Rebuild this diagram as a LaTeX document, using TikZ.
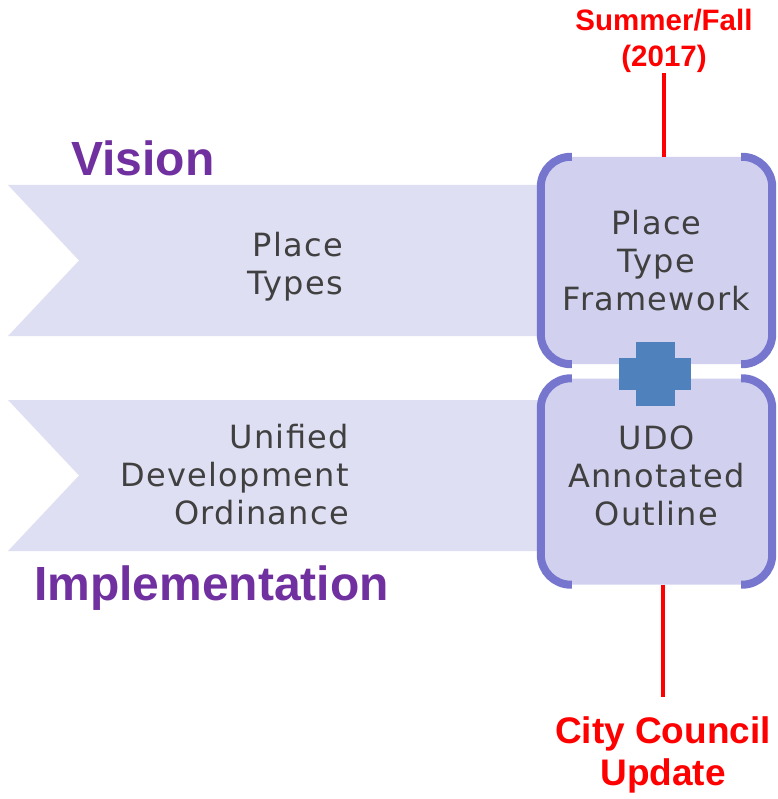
\documentclass[tikz,border=0pt]{standalone}
\usepackage{fontspec}
\setmainfont{Liberation Sans}
\newfontfamily\stagefont[LetterSpace=4]{DejaVu Sans}
\definecolor{bandfill}{RGB}{223,223,243}
\definecolor{boxfill}{RGB}{209,209,239}
\definecolor{rimblue}{RGB}{118,118,207}
\definecolor{plusblue}{RGB}{79,129,189}
\definecolor{textgray}{RGB}{64,64,64}
\definecolor{headpurple}{RGB}{112,48,160}
\tikzset{
	band/.style={fill=bandfill},
	stage/.style={fill=boxfill, rounded corners=30pt, inner sep=0pt,
		minimum width=231pt, align=center, text=textgray,
		font=\stagefont\fontsize{32}{38}\selectfont},
	rim/.style={draw=rimblue, line width=8pt, rounded corners=30pt},
	bandlbl/.style={inner sep=0pt, align=right, text=textgray,
		font=\stagefont\fontsize{32}{38}\selectfont},
	headlbl/.style={inner sep=0pt, text=headpurple, font=\bfseries\fontsize{48}{56}\selectfont},
	redlbl/.style={inner sep=0pt, align=center, text=red},
	redline/.style={draw=red, line width=4pt}
}
\begin{document}
\begin{tikzpicture}[x=1pt,y=-1pt]
\useasboundingbox (0,0) rectangle (777,799);
% 151 = band height, 79 = notch depth
\foreach \yy in {185,400}{
	\fill[band] (8,\yy) -- (545,\yy) -- (545,\yy+151) -- (8,\yy+151) -- (79,\yy+75.5) -- cycle;
}
\node[bandlbl, anchor=north east] (ptlbl) at (343,232) {Place\\Types};
\node[bandlbl, anchor=north east] (udolbl) at (349,424) {Unified\\Development\\Ordinance};
\node[headlbl, anchor=base west] (vislbl) at (71,176) {Vision};
\node[headlbl, anchor=base west] (implbl) at (34,600) {Implementation};
% boxes
\node[stage, minimum height=207pt] (tb) at (656.5,260.5) {Place\\Type\\Framework};
\node[stage, minimum height=206pt, text depth=12pt] (bb) at (656.5,481.5) {UDO\\Annotated\\Outline};
\foreach \bx in {tb,bb}{
	\draw[rim] ([xshift=31pt]\bx.north west) -- (\bx.north west) -- (\bx.south west) -- ([xshift=31pt]\bx.south west);
	\draw[rim] ([xshift=-31pt]\bx.north east) -- (\bx.north east) -- (\bx.south east) -- ([xshift=-31pt]\bx.south east);
}
% plus
\fill[plusblue] (636,342) rectangle (675,406);
\fill[plusblue] (619,358) rectangle (691,390);
% timeline
\node[redlbl, anchor=south, font=\bfseries\fontsize{29.5}{36}\selectfont] (sumlbl) at (664,73) {Summer/Fall\\(2017)};
\node[redlbl, anchor=north, font=\bfseries\fontsize{37}{42}\selectfont] (cclbl) at (663,716) {City Council\\Update};
\draw[redline] (sumlbl.south) -- (sumlbl.south |- tb.north);
\draw[redline] (bb.south -| cclbl.north) -- ([yshift=19pt]cclbl.north);
\end{tikzpicture}
\end{document}
